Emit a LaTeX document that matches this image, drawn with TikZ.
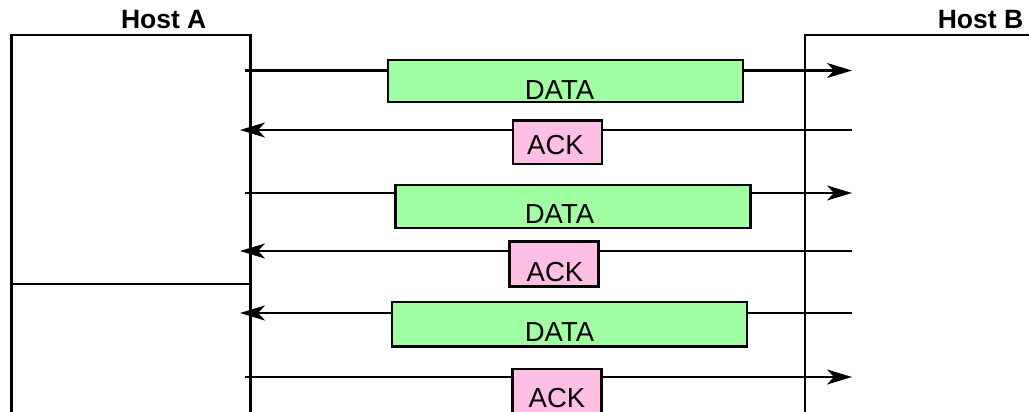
\documentclass[tikz,border=0pt]{standalone}
\usepackage{fontspec}
\setmainfont{Liberation Sans}
\usetikzlibrary{arrows.meta}
\definecolor{datagreen}{RGB}{160,255,160}
\definecolor{ackpink}{RGB}{255,190,228}
\begin{document}
\begin{tikzpicture}[x=1pt,y=-1pt,
  hostline/.style={line width=2.7pt},
  msg/.style={line width=2.2pt,-{Stealth[length=25pt,width=15pt,inset=7pt]}},
  pkt/.style={draw,line width=2.7pt,inner sep=0pt},
  datapkt/.style={pkt,fill=datagreen,minimum width=355pt},
  ackpkt/.style={pkt,fill=ackpink,minimum width=89pt},
  pktlabel/.style={anchor=base,inner sep=0pt,font=\fontsize{27.5}{27.5}\selectfont},
  hostlabel/.style={anchor=base,inner sep=0pt,font=\fontsize{26.5}{26.5}\selectfont\bfseries}]
\useasboundingbox (0,0) rectangle (1029,412);

% hosts
\node[hostlabel] (hostA) at (163.7,28.3) {Host A};
\node[hostlabel] (hostB) at (980.5,28.3) {Host B};
\draw[hostline] (11.7,412) -- (11.7,35) -- (250.7,35) -- (250.7,412);
\draw[hostline] (11.7,284) -- (250.7,284);
\draw[hostline] (1030,35) -- (805,35) -- (805,412);

% message end points on the two host sides
\coordinate (a1) at (245,70.5);  \coordinate (b1) at (852,70.5);
\coordinate (a2) at (240,130);   \coordinate (b2) at (852,130);
\coordinate (a3) at (245,193);   \coordinate (b3) at (852,193);
\coordinate (a4) at (240,251);   \coordinate (b4) at (852,251);
\coordinate (a5) at (240,313);   \coordinate (b5) at (852,313);
\coordinate (a6) at (245,377);   \coordinate (b6) at (852,377);

% messages
\draw[msg] (a1) -- (b1);
\draw[msg] (b2) -- (a2);
\draw[msg] (a3) -- (b3);
\draw[msg] (b4) -- (a4);
\draw[msg] (b5) -- (a5);
\draw[msg] (a6) -- (b6);

% segments
\node[datapkt,minimum height=42pt] (d1) at (565.5,81) {};
\node[ackpkt,minimum height=43.3pt] (k2) at (557.5,142.3) {};
\node[datapkt,minimum height=43pt] (d3) at (572.8,206.5) {};
\node[ackpkt,minimum height=45pt] (k4) at (554,264.2) {};
\node[datapkt,minimum height=44.7pt] (d5) at (569.5,324.3) {};
\node[ackpkt,minimum height=51pt] (k6) at (557.3,394.5) {};

\node[pktlabel] (l1) at (559.5,99.3) {DATA};
\node[pktlabel] (l2) at (555.5,154) {ACK};
\node[pktlabel] (l3) at (559.5,223.3) {DATA};
\node[pktlabel] (l4) at (555,281.7) {ACK};
\node[pktlabel] (l5) at (559.5,341.7) {DATA};
\node[pktlabel] (l6) at (557,407.5) {ACK};
\end{tikzpicture}
\end{document}
